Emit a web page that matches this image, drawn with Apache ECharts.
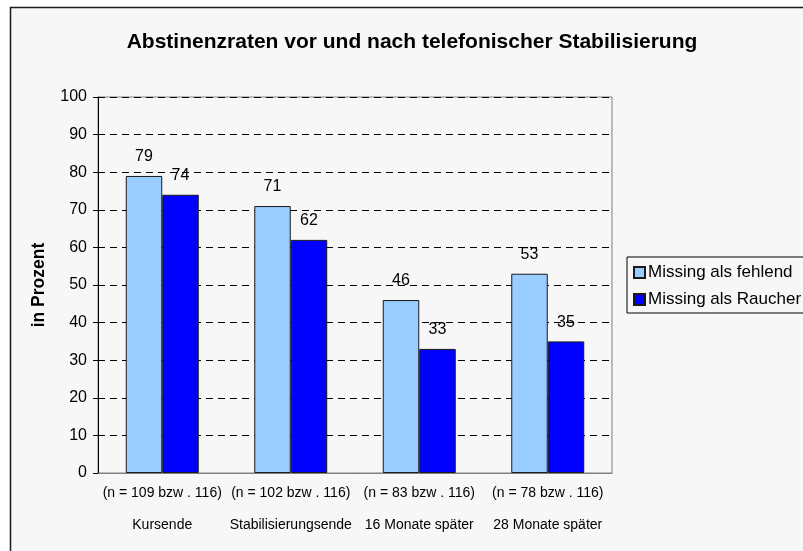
<!DOCTYPE html>
<html>
<head>
<meta charset="utf-8">
<script src="https://cdn.jsdelivr.net/npm/echarts@6/dist/echarts.min.js"></script>
<style>
html,body{margin:0;padding:0;background:#ffffff;}
#chart{width:803px;height:551px;}
</style>
</head>
<body>
<div id="chart"></div>
<script>
var categories = ["Kursende", "Stabilisierungsende", "16 Monate später", "28 Monate später"];
var sampleNotes = ["(n = 109 bzw . 116)", "(n = 102 bzw . 116)", "(n = 83 bzw . 116)", "(n = 78 bzw . 116)"];
var seriesNames = ["Missing als fehlend", "Missing als Raucher"];
var missingFehlend = [79, 71, 46, 53];
var missingRaucher = [74, 62, 33, 35];
var titleText = "Abstinenzraten vor und nach telefonischer Stabilisierung";
var yAxisName = "in Prozent";

var axisLabels = categories.map(function (c, i) { return sampleNotes[i] + "\n" + c; });
var fontFam = "'Liberation Sans', Arial, Helvetica, sans-serif";

var chart = echarts.init(document.getElementById('chart'), null, {renderer: 'canvas'});
chart.setOption({
  backgroundColor: '#ffffff',
  animation: false,
  textStyle: {fontFamily: fontFam, color: '#000'},
  graphic: [{
    type: 'rect', z: -10, silent: true,
    shape: {x: 10.5, y: 7.5, width: 820, height: 580},
    style: {fill: '#f7f7f7', stroke: '#1a1a1a', lineWidth: 1.5}
  }],
  title: {
    text: titleText,
    left: 412, top: 32, padding: 0,
    textAlign: 'center',
    textStyle: {fontSize: 21, fontWeight: 'bold', color: '#000', fontFamily: fontFam}
  },
  legend: {
    orient: 'vertical',
    left: 627, top: 257,
    padding: [7, 14, 5, 6],
    itemGap: 10,
    itemWidth: 11, itemHeight: 11,
    borderColor: '#000', borderWidth: 1,
    icon: 'rect',
    textStyle: {fontSize: 17, color: '#000', fontFamily: fontFam, padding: [0, 0, 0, -2]},
    data: seriesNames
  },
  grid: {left: 98, top: 97, width: 514, height: 376, show: true, borderColor: '#808080', borderWidth: 1, backgroundColor: 'transparent'},
  xAxis: {
    type: 'category',
    data: axisLabels,
    axisLine: {lineStyle: {color: '#808080', width: 1}},
    axisTick: {show: false},
    axisLabel: {fontSize: 14, lineHeight: 32, margin: 4, color: '#000', interval: 0, fontFamily: fontFam}
  },
  yAxis: {
    type: 'value',
    min: 0, max: 100, interval: 10,
    name: yAxisName,
    nameLocation: 'middle',
    nameGap: 50,
    nameTextStyle: {fontSize: 17.5, fontWeight: 'bold', color: '#000', fontFamily: fontFam},
    axisLine: {show: true, lineStyle: {color: '#000', width: 1}},
    axisTick: {show: true, inside: false, length: 5, lineStyle: {color: '#000'}},
    axisLabel: {fontSize: 16, color: '#000', margin: 11, fontFamily: fontFam},
    splitLine: {show: true, lineStyle: {color: '#000', type: [7, 5], width: 1}}
  },
  series: [
    {
      name: seriesNames[0], type: 'bar', data: missingFehlend,
      barWidth: 36.5, barGap: '0%',
      itemStyle: {color: '#99ccff', borderColor: '#1a1a1a', borderWidth: 1},
      label: {show: true, position: 'top', distance: 11, fontSize: 16, color: '#000', fontFamily: fontFam}
    },
    {
      name: seriesNames[1], type: 'bar', data: missingRaucher,
      barWidth: 36.5, barGap: '0%',
      itemStyle: {color: '#0000ff', borderColor: '#1a1a1a', borderWidth: 1},
      label: {show: true, position: 'top', distance: 11, fontSize: 16, color: '#000', fontFamily: fontFam}
    }
  ]
});
</script>
</body>
</html>
